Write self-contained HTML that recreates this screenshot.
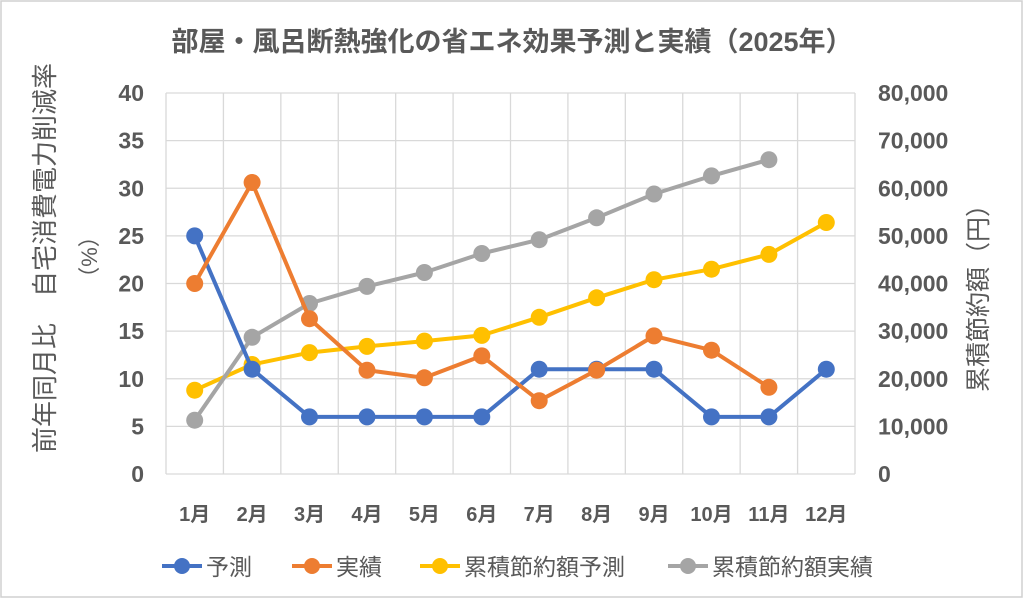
<!DOCTYPE html>
<html><head><meta charset="utf-8"><style>
body{margin:0;background:#fff}
svg text{font-family:"Liberation Sans","Noto Sans CJK JP",sans-serif;}
</style></head><body>
<svg id="s" width="1024" height="599" xmlns="http://www.w3.org/2000/svg">
<rect x="1" y="1" width="1021" height="596" fill="#fff" stroke="#d0d0d0" stroke-width="1.5"/>
<text x="512" y="51" text-anchor="middle" font-size="27" font-weight="bold" fill="#595959">部屋・風呂断熱強化の省エネ効果予測と実績（2025年）</text>
<g id="g"></g>
</svg>
<script>
var g=document.getElementById('g'),h='';
var L=166,R=855,T=93,B=474,W=(R-L)/12;
for(var i=0;i<=8;i++){var y=B-i*(B-T)/8;h+='<line x1="'+L+'" x2="'+R+'" y1="'+y+'" y2="'+y+'" stroke="#d9d9d9" stroke-width="1.3"/>';
h+='<text x="144" y="'+(y+8)+'" text-anchor="end" font-size="23" font-weight="bold" fill="#595959">'+(i*5)+'</text>';
var r=(i*10000).toLocaleString('en-US');h+='<text x="878" y="'+(y+8)+'" font-size="23" font-weight="bold" fill="#595959">'+r+'</text>';}
for(var i=0;i<=12;i++){var x=L+i*W;h+='<line x1="'+x+'" x2="'+x+'" y1="'+T+'" y2="'+B+'" stroke="#d9d9d9" stroke-width="1.3"/>';}
for(var i=0;i<12;i++){h+='<text x="'+(L+W*(i+.5))+'" y="521" text-anchor="middle" font-size="20" font-weight="bold" fill="#595959">'+(i+1)+'月</text>';}
function ser(d,c,sc){var p=[];d.forEach(function(v,i){p.push((L+W*(i+.5)).toFixed(1)+','+(B-v*sc).toFixed(1));});
h+='<polyline points="'+p.join(' ')+'" fill="none" stroke="'+c+'" stroke-width="4" stroke-linejoin="round"/>';
p.forEach(function(q){var a=q.split(',');h+='<circle cx="'+a[0]+'" cy="'+a[1]+'" r="8.5" fill="'+c+'"/>';});}
var sl=(B-T)/40,sr=(B-T)/80000;
ser([17600,23000,25500,26800,27900,29100,32900,37000,40800,43000,46100,52800],'#FFC000',sr);
ser([11300,28700,35800,39400,42300,46300,49200,53800,58800,62600,66000],'#A5A5A5',sr);
ser([25,11,6,6,6,6,11,11,11,6,6,11],'#4472C4',sl);
ser([20,30.6,16.3,10.9,10.1,12.4,7.7,10.9,14.5,13,9.1],'#ED7D31',sl);
var lg=[['予測','#4472C4',162],['実績','#ED7D31',292],['累積節約額予測','#FFC000',420],['累積節約額実績','#A5A5A5',668]];
lg.forEach(function(l){h+='<line x1="'+l[2]+'" x2="'+(l[2]+40)+'" y1="566" y2="566" stroke="'+l[1]+'" stroke-width="4"/><circle cx="'+(l[2]+20)+'" cy="566" r="8" fill="'+l[1]+'"/><text x="'+(l[2]+44)+'" y="575" font-size="23" fill="#595959">'+l[0]+'</text>';});
h+='<text transform="translate(54,258) rotate(-90)" text-anchor="middle" font-size="26" fill="#595959">前年同月比　自宅消費電力削減率</text>';
h+='<text transform="translate(97,257) rotate(-90)" text-anchor="middle" font-size="22" fill="#595959">（%）</text>';
h+='<text transform="translate(987,292) rotate(-90)" text-anchor="middle" font-size="25" fill="#595959">累積節約額（円）</text>';
g.innerHTML=h;
</script>
</body></html>
